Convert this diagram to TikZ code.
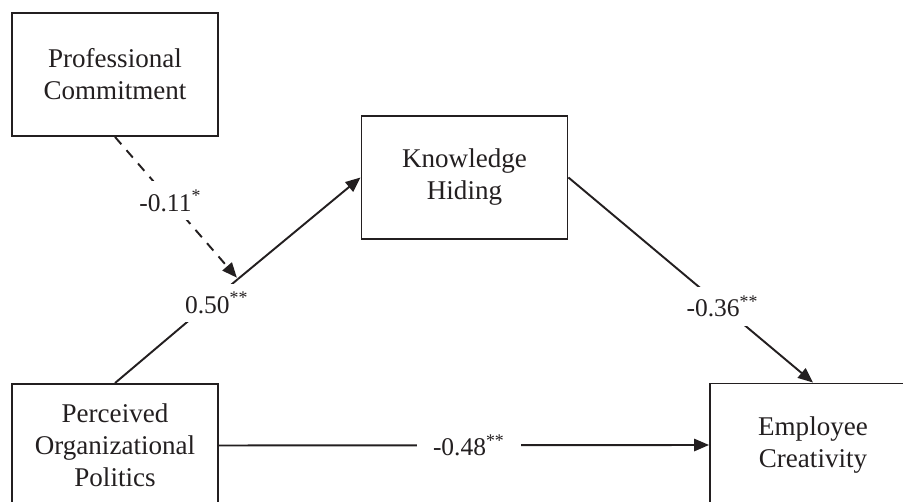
\documentclass[tikz,border=0pt]{standalone}
\usepackage{fontspec}
\setmainfont{Liberation Serif}
\usetikzlibrary{arrows.meta}
\definecolor{ink}{RGB}{35,31,32}

\begin{document}
\begin{tikzpicture}[x=0.02cm,y=-0.02cm,
  every node/.style = {text = ink},
  var/.style  = {draw = ink, line width = 1.1pt, minimum width = 4.12cm, minimum height = 2.46cm, inner sep = 0pt, align = center, font = \fontsize{15.4}{18.2}\selectfont},
  path edge/.style = {-{Triangle[length=8.5pt,width=7pt]}, draw = ink, line width = 1.1pt},
  coef/.style = {fill = white, inner sep = 5pt, font = \fontsize{14.5}{17}\selectfont}]
\clip (0,0) rectangle (903,502);
\node[var](pro) at (115,74.5) {Professional\\Commitment};
  \node[var](kno) at (464.5,177.5) {Knowledge\\Hiding};
\node[var](per) at (115,445.5) {Perceived\\Organizational\\Politics};
  \node[var](emp) at (813,445) {Employee\\Creativity};
\coordinate (join) at (238,279);
\draw[draw = ink, line width = 1.1pt] (per.north) -- node[coef, pos=0.77, xshift=4pt] {0.50\textsuperscript{**}} (join);
\draw[path edge] (join) -- (kno.west);
\draw[path edge, dash pattern = on 5.5pt off 4.5pt, shorten >= 1pt] (pro.south) -- node[coef, pos=0.45] {-0.11\textsuperscript{*}} (join);
\draw[path edge] (kno.east) -- node[coef, pos=0.63] {-0.36\textsuperscript{**}} (emp.north);
\draw[path edge] (per.east) -- node[coef, pos=0.51, inner xsep=9pt] {-0.48\textsuperscript{**}} (emp.west);
\end{tikzpicture}
\end{document}
